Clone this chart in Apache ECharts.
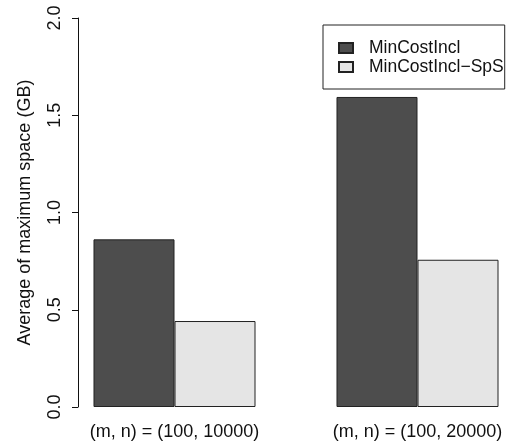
<!DOCTYPE html>
<html>
<head>
<meta charset="utf-8">
<script src="https://cdn.jsdelivr.net/npm/echarts@6/dist/echarts.min.js"></script>
<style>html,body{margin:0;padding:0;background:#fff;}#c{width:514px;height:443px;}</style>
</head>
<body>
<div id="c"></div>
<script>
const categories = ['(m, n) = (100, 10000)', '(m, n) = (100, 20000)'];
const seriesNames = ['MinCostIncl', 'MinCostIncl\u2212SpS'];
const minCostIncl = [0.862, 1.594];
const minCostInclSpS = [0.442, 0.757];
const yTicks = [0, 0.5, 1.0, 1.5, 2.0];

const FONT = 'Liberation Sans, Arial, Helvetica, sans-serif';
const chart = echarts.init(document.getElementById('c'), null, {renderer: 'canvas'});
chart.setOption({
  animation: false,
  backgroundColor: '#ffffff',
  textStyle: {fontFamily: FONT},
  grid: {left: 53, width: 486, top: 18, height: 389, containLabel: false, outerBoundsMode: 'none'},
  legend: {
    orient: 'vertical',
    left: 323, top: 25,
    padding: [14, 1, 13, 15],
    itemGap: 1,
    itemWidth: 14, itemHeight: 10,
    icon: 'rect',
    borderColor: '#222', borderWidth: 1,
    textStyle: {fontFamily: FONT, fontSize: 17.5, color: '#111', padding: [0, 0, 0, 11], lineHeight: 18},
    data: seriesNames
  },
  xAxis: {
    type: 'category',
    data: categories,
    axisLine: {show: false},
    axisTick: {show: false},
    axisLabel: {fontFamily: FONT, fontSize: 18, color: '#111', margin: 16, interval: 0}
  },
  yAxis: {
    type: 'value',
    min: yTicks[0], max: yTicks[yTicks.length - 1], interval: 0.5,
    offset: -25,
    name: 'Average of maximum space (GB)',
    nameLocation: 'middle',
    nameGap: 44,
    nameTextStyle: {fontFamily: FONT, fontSize: 18, color: '#111'},
    axisLine: {show: true, lineStyle: {color: '#111', width: 1}},
    axisTick: {show: true, length: 6, lineStyle: {color: '#111'}},
    splitLine: {show: false},
    axisLabel: {
      rotate: 90, fontFamily: FONT, fontSize: 18, color: '#111', margin: 14,
      formatter: v => v.toFixed(1)
    }
  },
  series: [
    {
      name: seriesNames[0], type: 'bar', data: minCostIncl,
      barGap: '0%', barCategoryGap: '33.333%',
      itemStyle: {color: '#4d4d4d', borderColor: '#222', borderWidth: 1}
    },
    {
      name: seriesNames[1], type: 'bar', data: minCostInclSpS,
      barGap: '0%', barCategoryGap: '33.333%',
      itemStyle: {color: '#e5e5e5', borderColor: '#222', borderWidth: 1}
    }
  ]
});
</script>
</body>
</html>
